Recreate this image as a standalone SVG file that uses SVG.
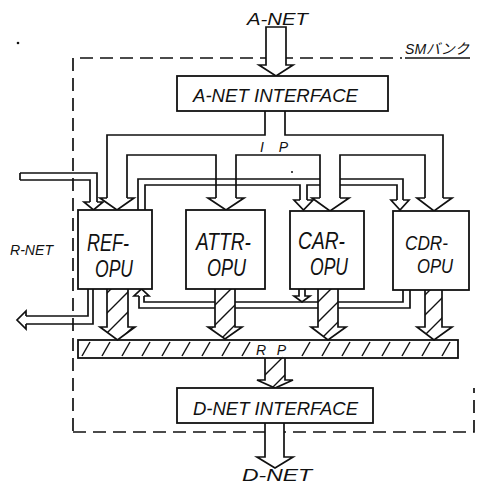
<svg xmlns="http://www.w3.org/2000/svg" width="477" height="484" viewBox="0 0 477 484">
<defs>
<style>
.ln{fill:none;stroke:#111;stroke-width:1.7;stroke-linejoin:miter}
.box{fill:#fff;stroke:#111;stroke-width:1.8}
.hol{fill:#fff;stroke:#111;stroke-width:1.7}
.hat{fill:url(#hatch);stroke:#111;stroke-width:1.7}
.dash{fill:none;stroke:#111;stroke-width:1.7;stroke-dasharray:13 7}
text{font-family:"Liberation Sans","Noto Sans CJK JP",sans-serif;font-style:italic;fill:#111}
.big{font-size:23px}
.cdr{font-size:20px}
.mid{font-size:19px}
.sm{font-size:16px}
</style>
<pattern id="hatch" patternUnits="userSpaceOnUse" width="20" height="20">
<path d="M-5,5 L5,-5 M0,20 L20,0 M15,25 L25,15" stroke="#111" stroke-width="1.4"/>
</pattern>
<pattern id="barhatch" patternUnits="userSpaceOnUse" x="78" y="340" width="20" height="18">
<path d="M4,16 L12,2" stroke="#111" stroke-width="1.5"/>
</pattern>
</defs>
<rect width="477" height="484" fill="#fff"/>
<circle cx="18" cy="43" r="1.3" fill="#111"/>
<circle cx="292" cy="172" r="1" fill="#111"/>

<g id="sm-bank">
<path class="dash" d="M73,431 V58 H402"/>
<path class="dash" d="M73,432 H474 V388"/>
<text x="405" y="54" style="font-size:14.5px" textLength="64" lengthAdjust="spacingAndGlyphs">SMバンク</text>
<line x1="405" y1="58" x2="470" y2="58" stroke="#111" stroke-width="1.5"/>
</g>

<g id="connectors">
<!-- A-NET input -->
<path class="hol" d="M266,27 V65 H259 L276,76 L293,65 H286 V27 Z"/>
<!-- IP bus -->
<path class="ln" d="M107,198 V135 H265 V111 M285,111 V135 H443 V198"/>
<path class="ln" d="M127,198 V155 H216 V198 M236,198 V155 H320 V198 M340,198 V155 H425 V198"/>
<path class="ln" d="M107,198 H100 L117,210 L134,198 H127"/>
<path class="ln" d="M216,198 H208 L226,210 L244,198 H236"/>
<path class="ln" d="M320,198 H312 L330,211 L349,198 H340"/>
<path class="ln" d="M425,198 H417 L434,211 L452,198 H443"/>
<!-- R-NET input -->
<path class="ln" d="M20,173 H97 V202 M20,180 H90 V202 M20,173 V180"/>
<path class="ln" d="M90,202 H84 L93.5,210 L103,202 H97"/>
<!-- REF output thin band -->
<path class="ln" d="M138,210 V179 H320 M340,179 H403 V200"/>
<path class="ln" d="M145,210 V185 H300 V200 M307,200 V185 H320 M340,185 H397 V200"/>
<path class="ln" d="M300,200 H294 L303.5,210 L313,200 H307"/>
<path class="ln" d="M397,200 H391 L400,210 L409,200 H403"/>
<!-- R-NET output -->
<path class="ln" d="M88,289 V316 H26 M93,289 V324 H26"/>
<path class="ln" d="M26,316 V311 L17,320 L26,329 V324"/>
<!-- return band to REF -->
<path class="ln" d="M144,296 V302 H215 M235,302 H318 M338,302 H403 V290"/>
<path class="ln" d="M139,296 V308 H215 M235,308 H318 M338,308 H410 V290"/>
<path class="ln" d="M139,296 H134 L141.5,289 L149,296 H144"/>
<path class="hol" d="M299,289 V296 H294 L302,302 L310,296 H305 V289"/>
<!-- hatched outputs to RP -->
<path class="hat" d="M107,289 V327 H100 L117.5,340 L135,327 H128 V289"/>
<path class="hat" d="M215,289 V327 H208 L225,339 L242,327 H235 V289"/>
<path class="hat" d="M318,289 V327 H311 L328,340 L346,327 H338 V289"/>
<path class="hat" d="M425,290 V327 H417 L434,340 L452,327 H442 V290"/>
<!-- RP to D-NET interface -->
<path class="hat" d="M265,358 V380 H257 L275,388 L293,380 H285 V358"/>
<!-- D-NET output -->
<path class="hol" d="M265,423 V457 H257 L275,468 L293,457 H284 V423"/>
</g>

<g id="a-net-label">
<text x="247" y="25" class="sm" textLength="61" lengthAdjust="spacingAndGlyphs">A-NET</text>
</g>

<g id="a-net-interface">
<rect class="box" x="177" y="76" width="211" height="35"/>
<text x="193" y="102" class="mid" textLength="165" lengthAdjust="spacingAndGlyphs">A-NET  INTERFACE</text>
</g>

<g id="ip-label">
<text x="260" y="152" style="font-size:14px" textLength="28" lengthAdjust="spacing">I P</text>
</g>

<g id="r-net-label">
<text x="10" y="255" style="font-size:15px" textLength="43" lengthAdjust="spacingAndGlyphs">R-NET</text>
</g>

<g id="ref-opu">
<rect class="box" x="78" y="210" width="74" height="79"/>
<text x="87" y="251" class="big" textLength="42" lengthAdjust="spacingAndGlyphs">REF-</text>
<text x="95" y="277" class="big" textLength="38" lengthAdjust="spacingAndGlyphs">OPU</text>
</g>

<g id="attr-opu">
<rect class="box" x="186" y="210" width="79" height="79"/>
<text x="196" y="250" class="big" textLength="55" lengthAdjust="spacingAndGlyphs">ATTR-</text>
<text x="207" y="276" class="big" textLength="39" lengthAdjust="spacingAndGlyphs">OPU</text>
</g>

<g id="car-opu">
<rect class="box" x="290" y="211" width="74" height="78"/>
<text x="298" y="249" class="big" textLength="47" lengthAdjust="spacingAndGlyphs">CAR-</text>
<text x="310" y="275" class="big" textLength="38" lengthAdjust="spacingAndGlyphs">OPU</text>
</g>

<g id="cdr-opu">
<rect class="box" x="393" y="211" width="76" height="79"/>
<text x="405" y="250" class="cdr" textLength="43" lengthAdjust="spacingAndGlyphs">CDR-</text>
<text x="417" y="273" class="cdr" textLength="36" lengthAdjust="spacingAndGlyphs">OPU</text>
</g>

<g id="rp-bus">
<rect x="78" y="340" width="380" height="18" fill="url(#barhatch)" stroke="#111" stroke-width="1.8"/>
<rect x="251" y="342" width="40" height="14" fill="#fff"/>
<text x="256" y="355" style="font-size:14px" textLength="30" lengthAdjust="spacing">R P</text>
</g>

<g id="d-net-interface">
<rect class="box" x="177" y="388" width="196" height="35"/>
<text x="193" y="415" class="mid" textLength="165" lengthAdjust="spacingAndGlyphs">D-NET  INTERFACE</text>
</g>

<g id="d-net-label">
<text x="242" y="481" class="sm" textLength="70" lengthAdjust="spacingAndGlyphs">D-NET</text>
</g>
</svg>
